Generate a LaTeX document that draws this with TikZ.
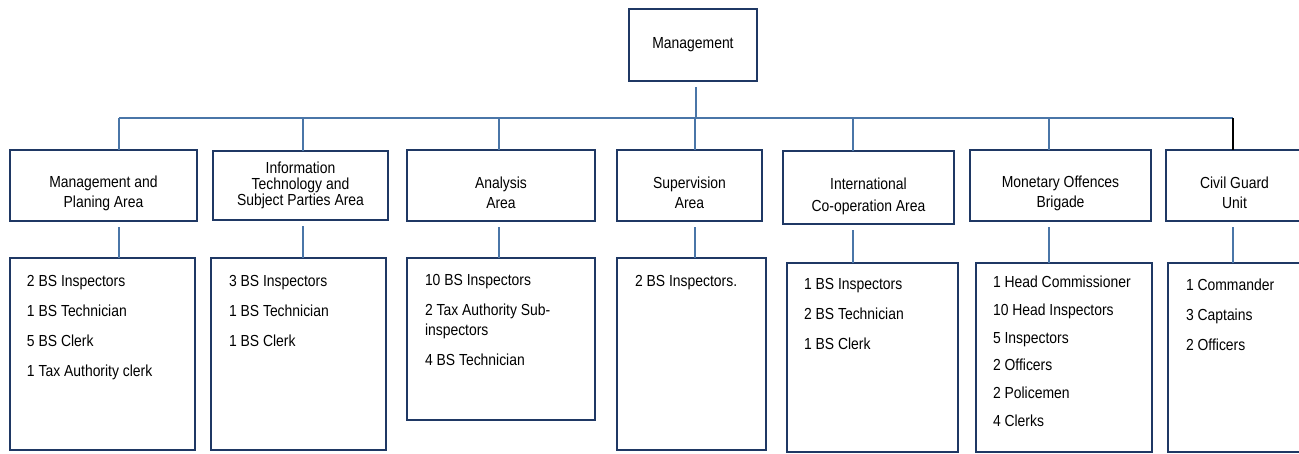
\documentclass[tikz,border=0pt]{standalone}
\usepackage{fontspec}
\setmainfont{Liberation Sans}[FakeStretch=0.87]
\definecolor{boxnavy}{RGB}{31,56,100}
\definecolor{linkblue}{RGB}{74,118,168}

\begin{document}
\begin{tikzpicture}[x=1pt,y=-1pt,inner sep=0pt,outer sep=0pt,
areablock/.style={draw=boxnavy,rectangle,line width=1.8pt,anchor=north west,minimum height=71pt},
areatext/.style={align=center,font=\fontsize{16}{20}\selectfont},
staffblock/.style={draw=boxnavy,rectangle,line width=1.8pt,anchor=north west},
stafftext/.style={align=left,anchor=north west,font=\fontsize{16}{30}\selectfont},
link/.style={draw=linkblue,line width=1.4pt}]
\clip (0,0) rectangle (1299,453);

\draw (693,45) node[areablock,anchor=center,minimum width=128pt,minimum height=72pt,font=\fontsize{16}{20}\selectfont] (top) {Management};

% areas
\draw (10,150) node[areablock,minimum width=187pt] (a1) {};
\draw ([shift={(0,7.5)}]a1.center) node[areatext] (t1) {Management and\\Planing Area};
\draw (213,151) node[areablock,minimum width=175pt,minimum height=69pt] (a2) {};
\draw (a2.center) node[areatext] (t2) {Information\\[-4pt]Technology and\\[-4pt]Subject Parties Area};
\draw (407,150) node[areablock,minimum width=188pt] (a3) {};
\draw ([shift={(0,7.5)}]a3.center) node[areatext] (t3) {Analysis\\Area};
\draw (617,150) node[areablock,minimum width=145pt] (a4) {};
\draw ([shift={(0,7.5)}]a4.center) node[areatext] (t4) {Supervision\\Area};
\draw (783,151) node[areablock,minimum width=171pt,minimum height=73pt] (a5) {};
\draw ([shift={(0,8.5)}]a5.center) node[areatext] (t5) {International\\[2pt]Co-operation Area};
\draw (970,150) node[areablock,minimum width=181pt] (a6) {};
\draw ([shift={(0,7.5)}]a6.center) node[areatext] (t6) {Monetary Offences\\Brigade};
\draw (1166,150) node[areablock,minimum width=137pt] (a7) {};
\draw ([shift={(0,7.5)}]a7.center) node[areatext] (t7) {Civil Guard\\Unit};

% staff
\draw (10,258) node[staffblock,minimum width=185pt,minimum height=192pt] (s1) {};
\draw ([shift={(17,17)}]s1.north west) node[stafftext] (l1) {2 BS Inspectors\\1 BS Technician\\5 BS Clerk\\1 Tax Authority clerk};
\draw (211,258) node[staffblock,minimum width=175pt,minimum height=192pt] (s2) {};
\draw ([shift={(18,17)}]s2.north west) node[stafftext] (l2) {3 BS Inspectors\\1 BS Technician\\1 BS Clerk};
\draw (407,258) node[staffblock,minimum width=188pt,minimum height=162pt] (s3) {};
\draw ([shift={(18,16)}]s3.north west) node[stafftext] (l3) {10 BS Inspectors\\2 Tax Authority Sub-\\[-10pt]inspectors\\4 BS Technician};
\draw (617,258) node[staffblock,minimum width=149pt,minimum height=192pt] (s4) {};
\draw ([shift={(18,17)}]s4.north west) node[stafftext] (l4) {2 BS Inspectors.};
\draw (787,263) node[staffblock,minimum width=171pt,minimum height=189pt] (s5) {};
\draw ([shift={(17,15)}]s5.north west) node[stafftext] (l5) {1 BS Inspectors\\2 BS Technician\\1 BS Clerk};
\draw (976,263) node[staffblock,minimum width=176pt,minimum height=189pt] (s6) {};
\draw ([shift={(17,13)}]s6.north west) node[stafftext,font=\fontsize{16}{27.8}\selectfont] (l6) {1 Head Commissioner\\10 Head Inspectors\\5 Inspectors\\2 Officers\\2 Policemen\\4 Clerks};
\draw (1168,263) node[staffblock,minimum width=137pt,minimum height=189pt] (s7) {};
\draw ([shift={(18,16)}]s7.north west) node[stafftext] (l7) {1 Commander\\3 Captains\\2 Officers};

% connectors
\coordinate (d0) at (696,118);
\coordinate (d1) at (119,118);
\coordinate (d2) at (303,118);
\coordinate (d3) at (499,118);
\coordinate (d4) at (695,118);
\coordinate (d5) at (853,118);
\coordinate (d6) at (1049,118);
\coordinate (d7) at (1233,118);
\draw[link] (d0 |- top.south) ++(0,6) -- (d0);
\draw[link] (d1) -- (d7);
\draw[link] (d1) -- (d1 |- a1.north);
\draw[link] (d2) -- (d2 |- a2.north);
\draw[link] (d3) -- (d3 |- a3.north);
\draw[link] (d4) -- (d4 |- a4.north);
\draw[link] (d5) -- (d5 |- a5.north);
\draw[link] (d6) -- (d6 |- a6.north);
\draw[link,draw=black] (d7) -- (d7 |- a7.north);
\draw[link] (d1 |- a1.south) ++(0,6) -- (d1 |- s1.north);
\draw[link] (d2 |- a2.south) ++(0,6) -- (d2 |- s2.north);
\draw[link] (d3 |- a3.south) ++(0,6) -- (d3 |- s3.north);
\draw[link] (d4 |- a4.south) ++(0,6) -- (d4 |- s4.north);
\draw[link] (d5 |- a5.south) ++(0,6) -- (d5 |- s5.north);
\draw[link] (d6 |- a6.south) ++(0,6) -- (d6 |- s6.north);
\draw[link] (d7 |- a7.south) ++(0,6) -- (d7 |- s7.north);

\end{tikzpicture}
\end{document}
